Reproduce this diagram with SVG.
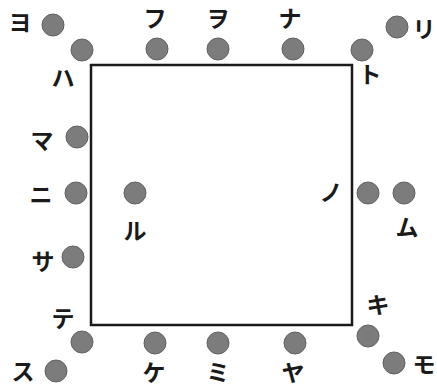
<svg xmlns="http://www.w3.org/2000/svg" width="437" height="388" viewBox="0 0 437 388">
<style>
.d{fill:#7c7c7c;stroke:#626262;stroke-width:1}
.t{font-family:"Noto Sans CJK JP","Noto Sans",sans-serif;font-size:23px;font-weight:bold;fill:#1a1a1a;text-anchor:middle;dominant-baseline:central}
</style>
<rect width="437" height="388" fill="#fff"/>
<g id="connectors">
<rect x="91" y="65" width="261" height="260" fill="none" stroke="#1a1a1a" stroke-width="2.5"/>
</g>
<g id="yo"><circle class="d" cx="53" cy="25" r="11"/><text class="t" x="20" y="21">ヨ</text></g>
<g id="ha"><circle class="d" cx="82" cy="50" r="11"/><text class="t" x="63" y="76">ハ</text></g>
<g id="fu"><circle class="d" cx="157" cy="49" r="11"/><text class="t" x="155" y="17">フ</text></g>
<g id="wo"><circle class="d" cx="218" cy="49" r="11"/><text class="t" x="218" y="17">ヲ</text></g>
<g id="na"><circle class="d" cx="293" cy="49" r="11"/><text class="t" x="290" y="17">ナ</text></g>
<g id="to"><circle class="d" cx="362" cy="50" r="11"/><text class="t" x="370" y="73">ト</text></g>
<g id="ri"><circle class="d" cx="397" cy="27" r="11"/><text class="t" x="424" y="28">リ</text></g>
<g id="ma"><circle class="d" cx="77" cy="137" r="11"/><text class="t" x="42" y="139">マ</text></g>
<g id="ni"><circle class="d" cx="76" cy="193" r="11"/><text class="t" x="41" y="193">ニ</text></g>
<g id="sa"><circle class="d" cx="73" cy="257" r="11"/><text class="t" x="43" y="260">サ</text></g>
<g id="ru"><circle class="d" cx="135" cy="193" r="11"/><text class="t" x="135" y="229">ル</text></g>
<g id="no"><circle class="d" cx="368" cy="193" r="11"/><text class="t" x="331" y="191">ノ</text></g>
<g id="mu"><circle class="d" cx="404" cy="193" r="11"/><text class="t" x="407" y="226">ム</text></g>
<g id="te"><circle class="d" cx="82" cy="342" r="11"/><text class="t" x="63" y="317">テ</text></g>
<g id="su"><circle class="d" cx="56" cy="371" r="11"/><text class="t" x="23" y="370">ス</text></g>
<g id="ke"><circle class="d" cx="155" cy="343" r="11"/><text class="t" x="154" y="371">ケ</text></g>
<g id="mi"><circle class="d" cx="218" cy="343" r="11"/><text class="t" x="218" y="371">ミ</text></g>
<g id="ya"><circle class="d" cx="295" cy="343" r="11"/><text class="t" x="293" y="371">ヤ</text></g>
<g id="ki"><circle class="d" cx="368" cy="336" r="11"/><text class="t" x="378" y="303">キ</text></g>
<g id="mo"><circle class="d" cx="394" cy="363" r="11"/><text class="t" x="424" y="363">モ</text></g>
</svg>
